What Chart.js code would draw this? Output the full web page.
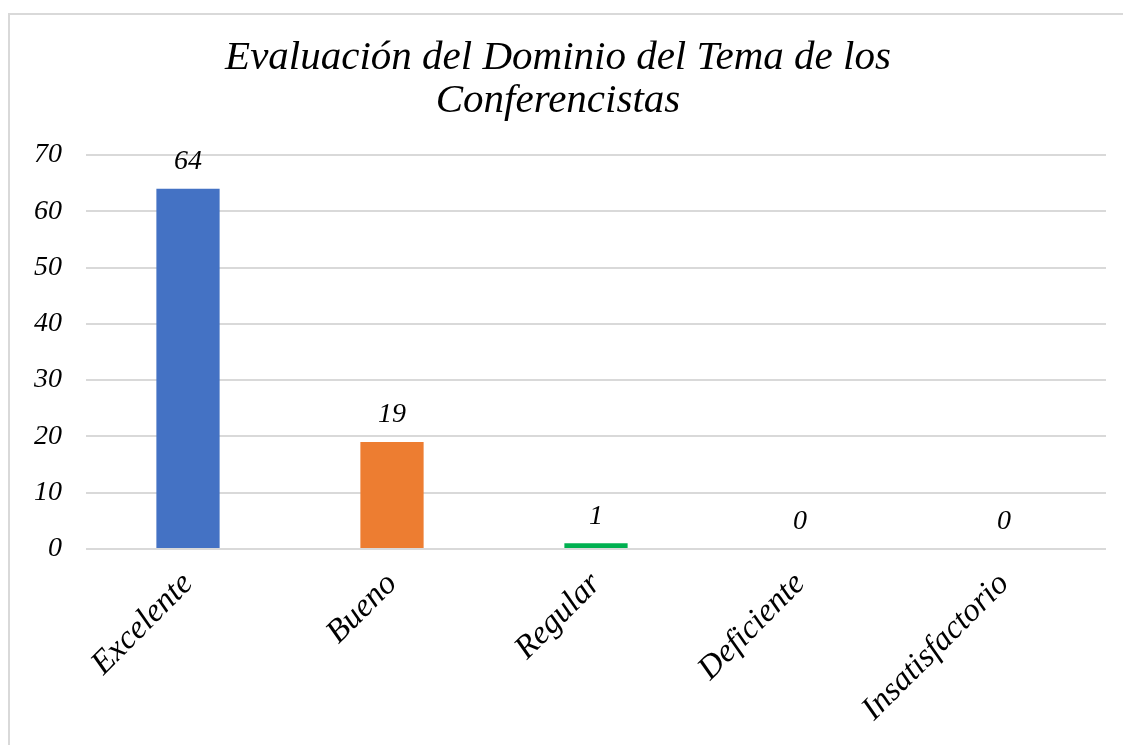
<!DOCTYPE html>
<html>
<head>
<meta charset="utf-8">
<script src="https://cdn.jsdelivr.net/npm/chart.js@4.4.0/dist/chart.umd.min.js"></script>
<style>
  html, body { margin: 0; padding: 0; background: #fff; overflow: hidden; }
  #frame { position: absolute; left: 8px; top: 13px; width: 1200px; height: 800px; border: 2px solid #d9d9d9; }
  #wrap { position: absolute; left: 0; top: 0; width: 1123px; height: 745px; }
</style>
</head>
<body>
<div id="frame"></div>
<div id="wrap"><canvas id="chart1"></canvas></div>
<script>
const categories = ["Excelente", "Bueno", "Regular", "Deficiente", "Insatisfactorio"];
const values = [64, 19, 1, 0, 0];
const barColors = ["#4472C4", "#ED7D31", "#00B050", "#A5A5A5", "#FFC000"];
const titleLines = ["Evaluación del Dominio del Tema de los", "Conferencistas"];
const yMax = 70;
const yStep = 10;

const fontFamily = "'Liberation Serif', 'DejaVu Serif', serif";

// draws the value above each bar
const barLabels = {
  id: "barLabels",
  afterDatasetsDraw(chart) {
    const ctx = chart.ctx;
    const meta = chart.getDatasetMeta(0);
    ctx.save();
    ctx.font = "italic 28px " + fontFamily;
    ctx.fillStyle = "#000";
    ctx.textAlign = "center";
    ctx.textBaseline = "middle";
    meta.data.forEach((bar, i) => {
      ctx.fillText(String(values[i]), bar.x, bar.y - 27);
    });
    ctx.restore();
  }
};

const ctx = document.getElementById("chart1").getContext("2d");
const chart = new Chart(ctx, {
  type: "bar",
  data: {
    labels: categories,
    datasets: [{
      data: values,
      backgroundColor: barColors,
      barPercentage: 0.31,
      categoryPercentage: 1
    }]
  },
  options: {
    responsive: true,
    maintainAspectRatio: false,
    animation: false,
    layout: { padding: { left: 10, right: 17, top: 18, bottom: 8 } },
    plugins: {
      legend: { display: false },
      tooltip: { enabled: false },
      title: {
        display: true,
        text: titleLines,
        color: "#000",
        font: { family: fontFamily, size: 41, style: "italic", weight: "normal", lineHeight: 1.05 },
        padding: { top: 19, bottom: 32 }
      }
    },
    scales: {
      x: {
        grid: { display: false },
        border: { display: false },
        ticks: {
          color: "#000",
          minRotation: 45,
          maxRotation: 45,
          padding: 8,
          font: { family: fontFamily, size: 33, style: "italic" }
        }
      },
      y: {
        min: 0,
        max: yMax,
        grid: { color: "#d9d9d9", lineWidth: 2, drawTicks: false },
        border: { display: false },
        ticks: {
          stepSize: yStep,
          color: "#000",
          padding: 24,
          font: { family: fontFamily, size: 28, style: "italic" }
        }
      }
    }
  },
  plugins: [barLabels]
});
</script>
</body>
</html>
